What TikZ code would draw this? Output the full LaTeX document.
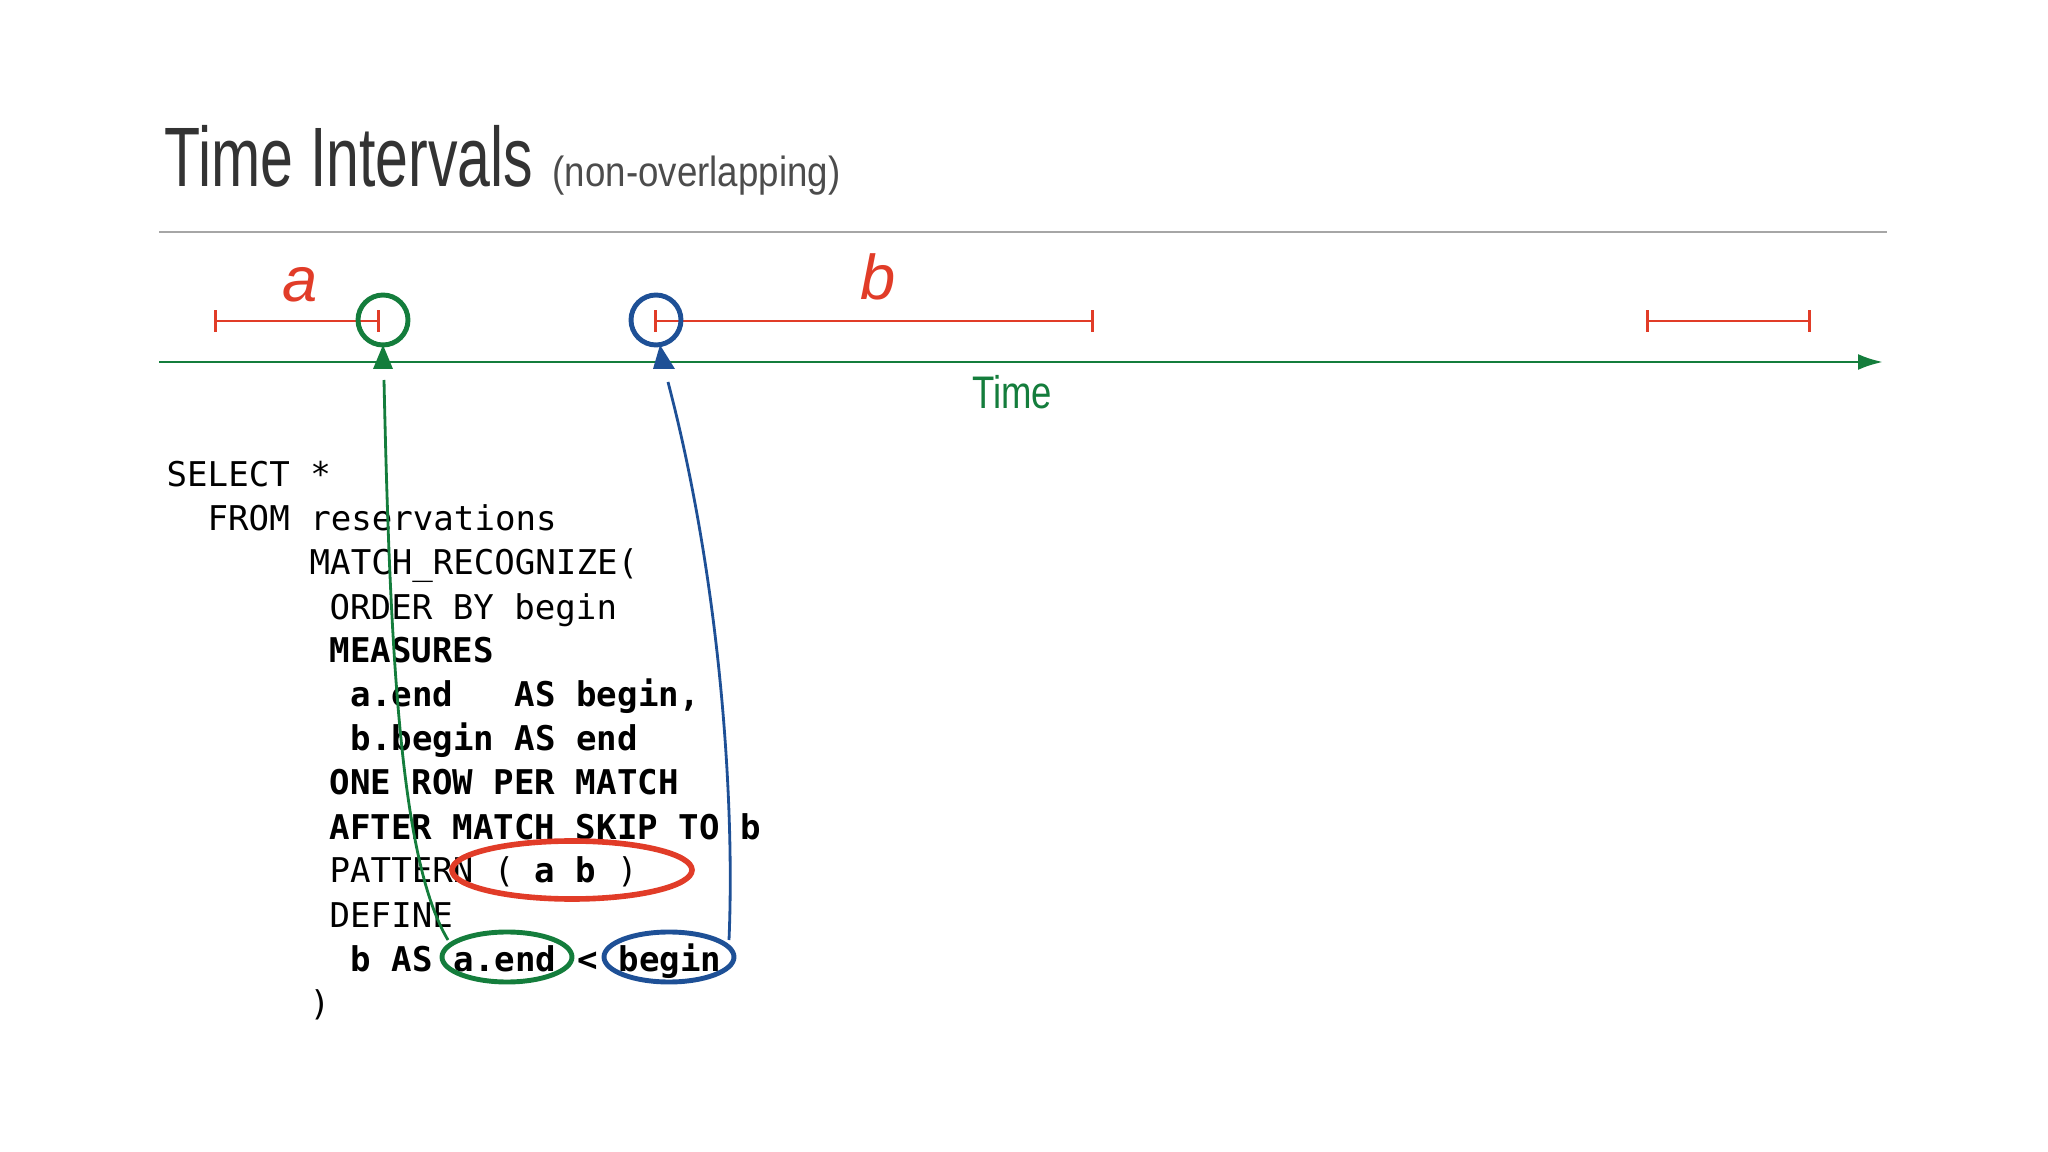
\documentclass[tikz,border=0pt]{standalone}
\usepackage{fontspec}
\setmainfont{Liberation Sans}
\setmonofont{DejaVu Sans Mono}
\usetikzlibrary{arrows.meta,positioning}
\definecolor{tgreen}{RGB}{20,125,60}
\definecolor{tblue}{RGB}{30,80,150}
\definecolor{tred}{RGB}{225,60,40}
\tikzset{
  code/.style={anchor=base west, inner sep=0pt, font=\fontsize{9.7}{12}\selectfont\ttfamily},
  bcode/.style={code, font=\fontsize{9.7}{12}\selectfont\ttfamily\bfseries},
  span/.style={tred, thick, |-|},
  hand/.style={tred, font=\itshape\fontsize{18}{20}\selectfont}
}
\begin{document}
\begin{tikzpicture}[x=1cm,y=1cm]
        \useasboundingbox (0,0) rectangle (20.48,-11.52);
        %title
        \node (title) [anchor=base west, inner sep=0pt, font=\fontsize{24}{28}\selectfont, text=black!80] at (1.64,-1.87) {\scalebox{0.7}[1]{Time Intervals}};
        \node (sub) [anchor=base west, inner sep=0pt, font=\fontsize{12}{14}\selectfont, text=black!70] at (5.52,-1.87) {\scalebox{0.87}[1]{(non-overlapping)}};
        \draw[black!35, thick] (1.59,-2.32) -- (18.87,-2.32);

        %time axis
        \coordinate (t0) at (1.59,-3.62);
        \coordinate (t1) at (18.83,-3.62);
        \draw[tgreen, thick, -{Latex[length=2.5mm,width=1.6mm]}] (t0) -- (t1);
        \node (time) [tgreen, font=\fontsize{13}{15}\selectfont] at (10.12,-3.92) {\scalebox{0.8}[1]{Time}};

        %intervals
        \draw[span] (2.14,-3.21) -- (3.80,-3.21);
        \draw[span] (6.54,-3.21) -- (10.94,-3.21);
        \draw[span] (16.46,-3.21) -- (18.11,-3.21);
        \node (la) [hand] at (3.00,-2.85) {a};
        \node (lb) [hand] at (8.78,-2.77) {b};

        %points
        \draw[tgreen, line width=1.4pt] (3.83,-3.20) circle (0.25);
        \draw[tblue, line width=1.4pt] (6.56,-3.20) circle (0.25);
        \fill[tgreen] (3.73,-3.69) -- (3.93,-3.69) -- (3.83,-3.45) -- cycle;
        \fill[tblue] (6.53,-3.69) -- (6.75,-3.69) -- (6.60,-3.45) -- cycle;
        \coordinate (pa) at (3.84,-3.80);
        \coordinate (pb) at (6.68,-3.82);

        %code
        \node (l1) [code] at (1.66,-4.87) {SELECT *};
        \node (l2) [code] at (2.07,-5.31) {FROM reservations};
        \node (l3) [code] at (3.09,-5.75) {MATCH\_RECOGNIZE(};
        \node (l4) [code] at (3.29,-6.19) {ORDER BY begin};
        \node (l5) [bcode] at (3.29,-6.63) {MEASURES};
        \node (l6) [bcode] at (3.50,-7.07) {a.end~~~AS begin,};
        \node (l7) [bcode] at (3.50,-7.51) {b.begin AS end};
        \node (l8) [bcode] at (3.29,-7.95) {ONE ROW PER MATCH};
        \node (l9) [bcode] at (3.29,-8.39) {AFTER MATCH SKIP TO b};
        \node (l10) [code] at (3.29,-8.83) {PATTERN ( \textbf{a b} )};
        \node (l11) [code] at (3.29,-9.27) {DEFINE};
        \node (l12) [bcode] at (3.50,-9.71) {b AS};
        \node (aend) [bcode] at (4.53,-9.71) {a.end};
        \node (lt) [bcode] at (5.77,-9.71) {<};
        \node (beg) [bcode] at (6.18,-9.71) {begin};
        \node (l13) [code] at (3.09,-10.15) {)};

        %rings
        \draw[tred, line width=1.6pt] (5.72,-8.70) ellipse (1.20 and 0.29);
        \draw[tgreen, line width=1.4pt] (5.07,-9.57) ellipse (0.65 and 0.25);
        \draw[tblue, line width=1.4pt] (6.69,-9.57) ellipse (0.65 and 0.25);

        %links
        \draw[tgreen, thick] (pa) .. controls (3.90,-6.5) and (4.00,-8.6) .. (4.48,-9.40);
        \draw[tblue, thick] (pb) .. controls (7.20,-5.8) and (7.35,-8.0) .. (7.29,-9.40);
\end{tikzpicture}
\end{document}
